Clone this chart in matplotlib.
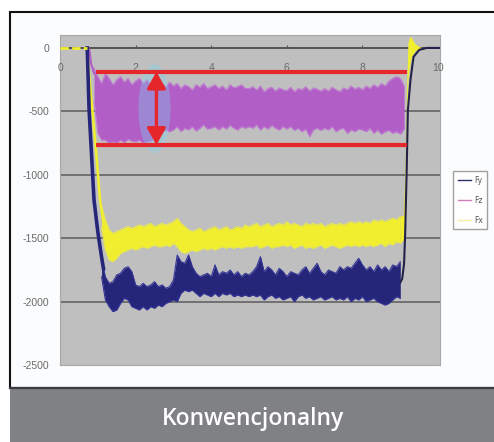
import numpy as np
import matplotlib
matplotlib.use('Agg')
import matplotlib.pyplot as plt
from matplotlib.patches import Rectangle, Ellipse
from matplotlib.lines import Line2D

# ---------------- data ----------------
y_ticks = [0, -500, -1000, -1500, -2000, -2500]
y_ticklabels = ['0', '-500', '-1000', '-1500', '-2000', '-2500']
x_ticks = [0, 2, 4, 6, 8, 10]
x_ticklabels = ['0', '2', '4', '6', '8', '10']
grid_levels = [-500, -1000, -1500, -2000]

# Fy (navy): ramp in, noisy band envelope (x 1.1 .. 9.0 step 0.1), ramp out
fy_in_x = [0.0, 0.72, 0.77, 0.90, 1.00, 1.10, 1.15]
fy_in_y = [0, 0, -490, -1200, -1450, -1650, -1740]
fy_band_start = 1.1
fy_hi = [-1670, -1806, -1856, -1843, -1790, -1777, -1738, -1725, -1764, -1869,
         -1882, -1856, -1882, -1869, -1843, -1882, -1869, -1895, -1882, -1830,
         -1633, -1685, -1698, -1633, -1725, -1777, -1803, -1790, -1777, -1803,
         -1711, -1790, -1764, -1777, -1751, -1790, -1764, -1803, -1777, -1790,
         -1764, -1725, -1646, -1764, -1725, -1751, -1790, -1738, -1764, -1803,
         -1764, -1777, -1790, -1751, -1725, -1777, -1738, -1698, -1764, -1790,
         -1751, -1764, -1777, -1725, -1751, -1725, -1738, -1698, -1659, -1711,
         -1751, -1725, -1764, -1711, -1751, -1725, -1764, -1711, -1725, -1685]
fy_lo = [-1806, -1987, -2040, -2079, -2066, -2014, -1974, -1987, -2040, -2053,
         -2066, -2040, -2066, -2040, -2053, -2027, -2040, -2014, -2001, -1987,
         -2001, -1935, -1909, -1922, -1909, -1935, -1961, -1935, -1948, -1961,
         -1935, -1961, -1935, -1948, -1935, -1961, -1948, -1961, -1948, -1961,
         -1948, -1961, -1948, -1987, -1961, -1948, -1974, -1961, -1987, -1974,
         -1961, -2001, -1961, -1948, -1974, -1961, -1987, -1974, -1961, -1987,
         -1974, -1961, -1987, -1974, -1987, -1961, -2001, -1974, -1987, -1961,
         -2001, -1987, -1974, -2001, -2014, -2027, -2014, -1987, -1961, -1974]
fy_out_x = [9.0, 9.05, 9.10, 9.13, 9.17, 9.20, 9.27, 9.35, 9.50, 9.70, 10.05]
fy_out_y = [-1850, -1820, -1700, -1450, -950, -490, -250, -70, -15, 0, 0]

# Fz (magenta): ramp in, band envelope (x 0.9 .. 9.1 step 0.1)
fz_in_x = [0.72, 0.78, 0.82, 0.90]
fz_in_y = [0, -20, -120, -200]
fz_band_start = 0.9
fz_hi = [-160,
         -226, -279, -200, -240, -290, -252, -226, -270, -240, -290,
         -260, -240, -279, -250, -290, -270, -300, -280, -305, -270,
         -300, -279, -320, -290, -305, -331, -290, -310, -279, -320,
         -305, -290, -320, -300, -331, -290, -315, -305, -290, -320,
         -320, -305, -331, -300, -345, -320, -310, -340, -315, -330,
         -335, -310, -345, -320, -330, -305, -340, -315, -325, -340,
         -320, -340, -310, -330, -345, -315, -330, -300, -325, -310,
         -330, -300, -320, -290, -310, -280, -300, -260, -240, -226,
         -240, -300]
fz_lo = [-420,
         -673, -726, -726, -752, -740, -752, -726, -745, -720, -735,
         -740, -726, -752, -740, -735, -710, -680, -660, -647, -660,
         -647, -620, -660, -633, -647, -620, -655, -633, -607, -640,
         -633, -620, -647, -620, -640, -610, -633, -647, -620, -633,
         -620, -633, -607, -647, -620, -640, -610, -633, -647, -620,
         -640, -620, -650, -633, -660, -640, -700, -647, -633, -650,
         -633, -647, -620, -660, -640, -633, -673, -647, -660, -640,
         -647, -660, -633, -673, -647, -680, -660, -650, -673, -660,
         -680, -640]

# Fx (yellow): flat start, ramp in, band envelope (x 1.1 .. 9.0 step 0.1), rise with overshoot
fx_flat_x = [0.0, 0.72]
fx_flat_y = [0, 0]
fx_in_x = [0.72, 0.74, 0.79, 0.95, 1.06, 1.15]
fx_in_y = [0, -100, -275, -800, -1200, -1380]
fx_band_start = 1.1
fx_hi = [-1250, -1356, -1435, -1462, -1448, -1435, -1422, -1409, -1422, -1409,
         -1396, -1409, -1396, -1383, -1409, -1396, -1383, -1396, -1383, -1370,
         -1343, -1383, -1409, -1435, -1448, -1435, -1422, -1448, -1435, -1422,
         -1409, -1435, -1422, -1409, -1435, -1422, -1409, -1422, -1396, -1409,
         -1396, -1383, -1409, -1396, -1383, -1409, -1396, -1383, -1396, -1370,
         -1396, -1383, -1396, -1409, -1383, -1396, -1383, -1396, -1383, -1409,
         -1396, -1383, -1396, -1383, -1396, -1383, -1370, -1383, -1370, -1383,
         -1370, -1383, -1356, -1370, -1356, -1370, -1356, -1343, -1356, -1330]
fx_lo = [-1420, -1593, -1672, -1685, -1659, -1619, -1606, -1593, -1580, -1593,
         -1580, -1567, -1580, -1567, -1554, -1567, -1567, -1554, -1567, -1540,
         -1567, -1606, -1619, -1606, -1593, -1606, -1593, -1580, -1593, -1580,
         -1593, -1580, -1567, -1580, -1567, -1580, -1567, -1580, -1567, -1567,
         -1567, -1554, -1580, -1567, -1554, -1580, -1567, -1567, -1554, -1567,
         -1554, -1580, -1567, -1554, -1580, -1567, -1580, -1567, -1554, -1580,
         -1567, -1554, -1567, -1580, -1567, -1554, -1567, -1554, -1567, -1554,
         -1567, -1554, -1567, -1554, -1540, -1567, -1540, -1554, -1527, -1540]
fx_out_x = [9.0, 9.08, 9.13, 9.17, 9.20, 9.25, 9.30, 9.35, 9.40, 9.50, 9.60]
fx_out_hi = [-1330, -1317, -900, -300, 40, 90, 80, 50, 30, 10, 0]
fx_out_lo = [-1540, -1514, -1400, -900, -250, -130, -70, -40, -20, -5, 0]

# annotation marks drawn on the chart (range lines and arrow)
range_lines = [-187, -765]
range_x = [0.96, 9.19]
arrow_x = 2.55
highlight_center = (2.5, -478)
highlight_size = (0.85, 700)

legend_labels = ['Fy', 'Fz', 'Fx']
caption = 'Konwencjonalny'

# ---------------- colours ----------------
c_fy = '#25257a'
c_fz = '#b15ec6'
c_fx = '#f0ee2e'
c_red = '#e5262b'

W, H = 494, 442
fig = plt.figure(figsize=(W / 100, H / 100), dpi=100)
fig.patch.set_facecolor('white')

# outer frame and caption band (behind the axes)
fig.patches.append(Rectangle((10 / W, 1 - 388 / H), 1.2, (388 - 12) / H,
                             transform=fig.transFigure, facecolor='#fbfcfd',
                             edgecolor='#111111', lw=1.5, zorder=-3))
fig.patches.append(Rectangle((10 / W, 0), 1.2, 54 / H, transform=fig.transFigure,
                             facecolor='#808185', edgecolor='none', zorder=-2))
fig.add_artist(Line2D([10 / W, 1], [1 - 388 / H] * 2, color='#3c3c3e', lw=1.6,
                      transform=fig.transFigure, zorder=-1))
fig.text(253 / W, 1 - 425 / H, caption, color='white', fontsize=16.5,
         family='Open Sans', weight='semibold', ha='center', va='baseline')

ax = fig.add_axes([60 / W, 1 - 365 / H, 380 / W, 330 / H])
ax.set_zorder(1)
ax.set_facecolor('#bfbfbf')
ax.set_xlim(0, 10.05)
ax.set_ylim(-2500, 102)
for s in ax.spines.values():
    s.set_color('#a8a8a8')
    s.set_linewidth(0.8)

ax.set_yticks(y_ticks)
ax.set_yticklabels(y_ticklabels, family='Liberation Sans')
ax.tick_params(axis='y', length=0, pad=8, labelsize=7.5, labelcolor='#6a6a6a')
ax.set_xticks([])

for g in grid_levels:
    ax.axhline(g, color='#6a6a6a', lw=1.3, zorder=1)
ax.axhline(0, color='#4a4a4a', lw=1.3, zorder=1)
ax.vlines(x_ticks[1:-1], 0, 22, color='#555555', lw=0.8, zorder=1)
for xv, lab in zip(x_ticks, x_ticklabels):
    ax.annotate(lab, (xv, 0), xytext=(0, -20), textcoords='offset pixels',
                ha='center', va='center', fontsize=7.5, color='#6a6a6a',
                family='Liberation Sans', annotation_clip=False)

# Fz
fz_x = np.round(fz_band_start + 0.1 * np.arange(len(fz_hi)), 2)
ax.fill_between(fz_x, fz_lo, fz_hi, color=c_fz, lw=0, zorder=2)
ax.plot(fz_x, fz_hi, color='#c07ad2', lw=0.8, zorder=2)
ax.plot(fz_x, fz_lo, color='#c07ad2', lw=0.8, zorder=2)
ax.plot(fz_in_x, fz_in_y, color=c_fz, lw=1.5, zorder=2)

# Fx
fx_x = np.round(fx_band_start + 0.1 * np.arange(len(fx_hi)), 2)
ax.fill_between(fx_x, fx_lo, fx_hi, color=c_fx, lw=0, zorder=3)
ax.plot(fx_x, fx_hi, color='#e6e655', lw=0.8, zorder=3)
ax.plot(fx_x, fx_lo, color='#e6e655', lw=0.8, zorder=3)
ax.fill_between(fx_out_x, fx_out_lo, fx_out_hi, color=c_fx, lw=0, zorder=3)
ax.plot(fx_flat_x, fx_flat_y, color=c_fx, lw=2.0, zorder=5, dashes=(3, 1.2))
ax.plot(fx_in_x, fx_in_y, color=c_fx, lw=1.8, zorder=3)

# Fy
fy_x = np.round(fy_band_start + 0.1 * np.arange(len(fy_hi)), 2)
ax.fill_between(fy_x, fy_lo, fy_hi, color=c_fy, lw=0, zorder=4)
ax.plot(fy_x, fy_hi, color='#34349a', lw=0.8, zorder=4)
ax.plot(fy_x, fy_lo, color='#34349a', lw=0.8, zorder=4)
ax.plot(fy_in_x[1:], fy_in_y[1:], color=c_fy, lw=2.6, zorder=4)
ax.plot(fy_out_x, fy_out_y, color='#22224a', lw=1.5, zorder=4)

# highlight, range lines and arrow
ax.add_patch(Ellipse(highlight_center, highlight_size[0], highlight_size[1],
                     facecolor='#7ad6ee', edgecolor='none', alpha=0.35, zorder=5))
for yv in range_lines:
    ax.plot(range_x, [yv, yv], color=c_red, lw=3, solid_capstyle='butt', zorder=6)
ax.annotate('', xy=(arrow_x, range_lines[1]), xytext=(arrow_x, range_lines[0]),
            arrowprops=dict(arrowstyle='<|-|>,head_length=0.5,head_width=0.28',
                            mutation_scale=20, lw=2.4, color=c_red,
                            shrinkA=0, shrinkB=0), zorder=7)

# legend
handles = [Line2D([], [], color='#30306a', lw=1.0),
           Line2D([], [], color='#d080b8', lw=1.0),
           Line2D([], [], color='#f0f0a0', lw=1.0)]
leg = fig.legend(handles, legend_labels, loc='upper left',
                 bbox_to_anchor=(453 / W, 1 - 171 / H), fontsize=5.5,
                 handlelength=1.8, handletextpad=0.35, borderpad=0.6,
                 labelspacing=1.45, frameon=True, fancybox=False,
                 borderaxespad=0)
leg.get_frame().set_edgecolor('#8a8a8a')
leg.get_frame().set_linewidth(1.0)
for t in leg.get_texts():
    t.set_color('#555555')

fig.savefig('out.png', dpi=100)
